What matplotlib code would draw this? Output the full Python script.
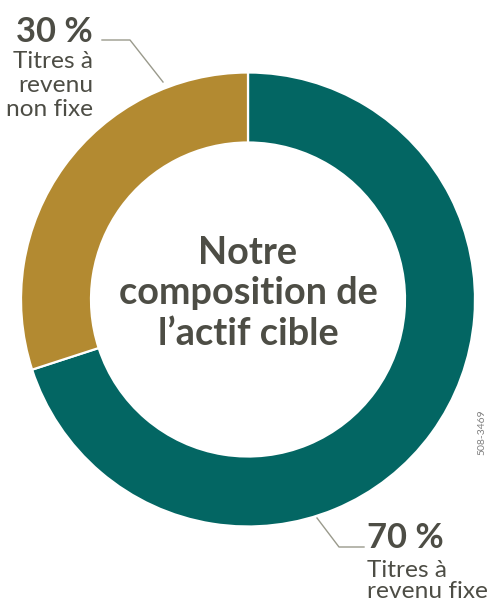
import matplotlib
matplotlib.use("Agg")
import matplotlib.pyplot as plt

categories = ["Titres à revenu fixe", "Titres à revenu non fixe"]
shares = [70, 30]
pct_labels = ["70 %", "30 %"]
label_lines = [["Titres à", "revenu fixe"], ["Titres à", "revenu", "non fixe"]]
colors = ["#036663", "#B38A31"]
center_lines = ["Notre", "composition de", "l’actif cible"]
code_label = "508-3469"

W, H = 487, 601
fig = plt.figure(figsize=(W / 100, H / 100), dpi=100)
ax = fig.add_axes([0, 0, 1, 1])

def Y(py):
    return H - py

cx, cy = 248, Y(299.5)
R = 227
ax.pie(shares, colors=colors, startangle=90, counterclock=False,
       center=(cx, cy), radius=R, frame=True,
       wedgeprops=dict(width=70, edgecolor="white", linewidth=1.6))
ax.set_xlim(0, W)
ax.set_ylim(0, H)
ax.set_aspect("equal")
ax.axis("off")

txt = "#4d4d45"
line_c = "#9a9a8c"
font = "Lato"

for i, line in enumerate(center_lines):
    ax.text(cx, Y(264 + 40.5 * i), line, ha="center", va="baseline",
            fontsize=27.3, fontweight="bold", color=txt, family=font)

# top-left label (30 %)
ax.text(93, Y(42), pct_labels[1], ha="right", va="baseline", fontsize=24.8,
        fontweight="bold", color=txt, family=font)
for i, line in enumerate(label_lines[1]):
    ax.text(93, Y(68 + 24 * i), line, ha="right", va="baseline",
            fontsize=17.6, color=txt, family=font)
ax.plot([102, 130, 163], [Y(40), Y(40), Y(82)], color=line_c, lw=1)

# bottom-right label (70 %)
ax.text(367, Y(548), pct_labels[0], ha="left", va="baseline", fontsize=24.8,
        fontweight="bold", color=txt, family=font)
for i, line in enumerate(label_lines[0]):
    ax.text(367, Y(577 + 20.5 * i), line, ha="left", va="baseline",
            fontsize=17.6, color=txt, family=font)
ax.plot([317, 339, 364], [Y(518), Y(547), Y(547)], color=line_c, lw=1)

ax.text(482, Y(432), code_label, rotation=90, ha="center", va="center",
        fontsize=7.5, color="#808080", family=font)

fig.savefig("out.png", dpi=100)
